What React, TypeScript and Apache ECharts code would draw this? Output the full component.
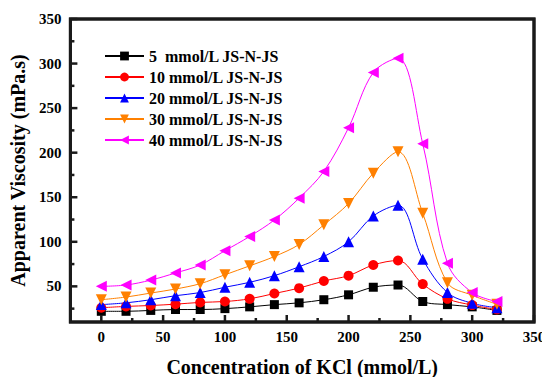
import React, { useEffect, useRef } from "react";
import * as echarts from "echarts";

const xValues = [0, 20, 40, 60, 80, 100, 120, 140, 160, 180, 200, 220, 240, 260, 280, 300, 320];
const s5 = [22, 22, 23, 24, 24, 25, 27, 29.5, 31.5, 35, 40.5, 49, 51.5, 33, 29.5, 27, 23];
const s10 = [26, 27.5, 28.5, 30, 32, 33, 36, 42, 48, 56, 62, 74, 79, 52.5, 36, 29, 24];
const s20 = [29.5, 31.5, 35, 39.5, 43, 49, 54.5, 62, 72, 83.5, 100, 129, 141, 80.5, 43, 31, 26];
const s30 = [35, 38, 42.5, 47, 53, 63, 73, 83.5, 97, 119, 143, 177, 201, 132, 54, 40, 30];
const s40 = [50, 51.5, 57, 65, 74, 90, 106, 124.5, 149, 179, 228, 290, 306, 210, 76, 43, 33];

const seriesNames = [
  "5  mmol/L JS-N-JS",
  "10 mmol/L JS-N-JS",
  "20 mmol/L JS-N-JS",
  "30 mmol/L JS-N-JS",
  "40 mmol/L JS-N-JS",
];

const xMajorTicks = [0, 50, 100, 150, 200, 250, 300, 350];
const xMinorTicks = [25, 75, 125, 175, 225, 275, 325];
const yMajorTicks = [50, 100, 150, 200, 250, 300, 350];
const yMinorTicks = [25, 75, 125, 175, 225, 275, 325];

const FONT = "'Liberation Serif', 'Times New Roman', serif";
const INK = "#1a1a1a";

export default function App() {
  const ref = useRef<HTMLDivElement>(null);
  useEffect(() => {
    if (!ref.current) return;
    const chart = echarts.init(ref.current, undefined, { renderer: "svg" });
    const colors = ["#000000", "#ff0000", "#0000ff", "#ff8000", "#ff00ff"];
    const symbols = ["rect", "circle", "triangle", "triangle", "triangle"];
    const rotates = [0, 0, 0, 180, 90];
    const sizes = [9, 10, 11, 11, 11];
    const all = [s5, s10, s20, s30, s40];
    const xMin = -25, xMax = 350, yMin = 10, yMax = 350;

    const tickData: number[][] = [
      ...xMajorTicks.map((v) => [v, 0]),
      ...xMinorTicks.map((v) => [v, 1]),
      ...yMajorTicks.map((v) => [v, 2]),
      ...yMinorTicks.map((v) => [v, 3]),
    ];

    chart.setOption({
      animation: false,
      grid: {
        left: 69,
        right: 16,
        top: 19,
        bottom: 63,
        show: true,
        borderColor: INK,
        borderWidth: 3,
      },
      legend: {
        orient: "vertical",
        left: 99,
        top: 43,
        itemWidth: 39,
        itemHeight: 11,
        itemGap: 5,
        data: seriesNames,
        textStyle: {
          fontFamily: FONT,
          fontWeight: "bold",
          fontSize: 16,
          color: "#000",
        },
      },
      xAxis: {
        type: "value",
        min: xMin,
        max: xMax,
        splitLine: { show: false },
        name: "Concentration of KCl (mmol/L)",
        nameLocation: "middle",
        nameGap: 35,
        nameTextStyle: { fontFamily: FONT, fontWeight: "bold", fontSize: 20, color: "#000" },
        axisLine: { show: false, onZero: false },
        axisTick: { show: false },
        axisLabel: {
          show: true,
          customValues: xMajorTicks,
          margin: 7,
          fontFamily: FONT,
          fontWeight: "bold",
          fontSize: 15,
          color: "#000",
        },
      },
      yAxis: {
        type: "value",
        min: yMin,
        max: yMax,
        splitLine: { show: false },
        name: "Apparent Viscosity (mPa.s)",
        nameLocation: "middle",
        nameGap: 34,
        nameTextStyle: { fontFamily: FONT, fontWeight: "bold", fontSize: 20, color: "#000" },
        axisLine: { show: false, onZero: false },
        axisTick: { show: false },
        axisLabel: {
          show: true,
          customValues: yMajorTicks,
          margin: 9,
          fontFamily: FONT,
          fontWeight: "bold",
          fontSize: 15,
          color: "#000",
        },
      },
      series: [
        ...all.map((vals, i) => ({
          name: seriesNames[i],
          type: "line",
          data: xValues.map((x, j) => [x, vals[j]]),
          smooth: 0.35,
          symbol: symbols[i],
          symbolRotate: rotates[i],
          symbolSize: sizes[i],
          showAllSymbol: true,
          itemStyle: { color: colors[i] },
          lineStyle: { color: colors[i], width: 1 },
          z: 3,
        })),
        {
          name: "ticks",
          type: "custom",
          clip: false,
          silent: true,
          z: 5,
          data: tickData,
          renderItem: (_params: any, api: any) => {
            const v = api.value(0);
            const kind = api.value(1);
            const len = kind === 0 || kind === 2 ? 7 : 4;
            if (kind < 2) {
              const p = api.coord([v, yMin]);
              return {
                type: "line",
                shape: { x1: p[0], y1: p[1], x2: p[0], y2: p[1] - len },
                style: { stroke: INK, lineWidth: 2.5 },
              };
            }
            const p = api.coord([xMin, v]);
            return {
              type: "line",
              shape: { x1: p[0], y1: p[1], x2: p[0] + len, y2: p[1] },
              style: { stroke: INK, lineWidth: 2.5 },
            };
          },
        },
      ],
    });
    const tl = chart.convertToPixel({ gridIndex: 0 }, [xMin, yMax]) as number[];
    const br = chart.convertToPixel({ gridIndex: 0 }, [xMax, yMin]) as number[];
    chart.setOption({
      graphic: [
        {
          type: "rect",
          shape: { x: tl[0], y: tl[1], width: br[0] - tl[0], height: br[1] - tl[1] },
          style: { fill: "none", stroke: INK, lineWidth: 3 },
          z: 10,
          silent: true,
        },
      ],
    });
    return () => chart.dispose();
  }, []);
  return <div ref={ref} style={{ width: 550, height: 385, margin: -8 }} />;
}
